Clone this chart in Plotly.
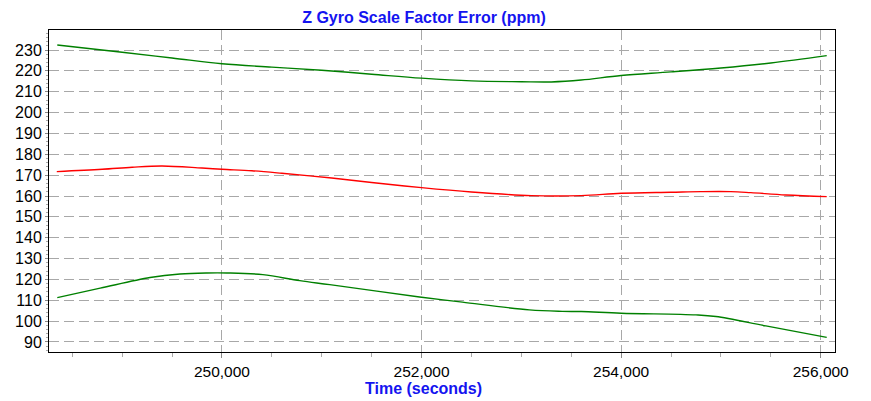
import plotly.graph_objects as go

# Upper green series
t_upper = [248350, 249000, 249500, 250000, 250500, 251000, 251500, 252000, 252500,
           253000, 253300, 253600, 254000, 254500, 255000, 255500, 256060]
v_upper = [232.4, 228.9, 226.2, 223.4, 221.8, 220.3, 218.4, 216.5, 215.2,
           214.8, 214.7, 215.6, 217.8, 219.5, 221.4, 223.8, 227.3]

# Middle red series
t_mid = [248345, 248800, 249100, 249400, 249800, 250000, 250300, 250600, 251100, 251500,
         252000, 252500, 253100, 253600, 254000, 254500, 254800, 255100, 255300, 255650, 256060]
v_mid = [171.7, 172.8, 173.8, 174.4, 173.4, 172.8, 172.1, 170.9, 168.6, 166.5,
         164.0, 161.9, 160.2, 160.2, 161.3, 161.8, 162.1, 162.1, 161.6, 160.5, 159.7]

# Lower green series
t_lower = [248350, 248780, 249280, 249580, 249850, 250050, 250410, 250780, 251080, 251980,
           252410, 253080, 253410, 253600, 254000, 254750, 254950, 255450, 256060]
v_lower = [111.3, 115.8, 120.9, 122.6, 123.1, 123.1, 122.3, 119.4, 117.5, 111.6,
           109.1, 105.4, 104.7, 104.6, 103.8, 103.0, 102.2, 97.7, 92.2]

x_ticks = [250000, 252000, 254000, 256000]
x_tick_labels = ["250,000", "252,000", "254,000", "256,000"]
y_ticks = list(range(90, 231, 10))

fig = go.Figure()
fig.add_trace(go.Scatter(x=t_upper, y=v_upper, mode="lines", line=dict(color="#008000", width=1.4, shape="spline"), showlegend=False))
fig.add_trace(go.Scatter(x=t_mid, y=v_mid, mode="lines", line=dict(color="#ff0000", width=1.4, shape="spline"), showlegend=False))
fig.add_trace(go.Scatter(x=t_lower, y=v_lower, mode="lines", line=dict(color="#008000", width=1.4, shape="spline"), showlegend=False))

font_family = "Liberation Sans, Arial, sans-serif"
blue = "#1414f0"
fig.update_layout(
    width=863, height=393,
    margin=dict(l=41, r=36, t=22, b=49),
    paper_bgcolor="white", plot_bgcolor="white",
    font=dict(family=font_family, size=16, color="black"),
    title=dict(text="<b>Z Gyro Scale Factor Error (ppm)</b>", x=0.482, xanchor="center",
               y=0.977, yanchor="middle", font=dict(size=16, color=blue, family=font_family)),
    xaxis=dict(
        range=[248267, 256143], tickvals=x_ticks, ticktext=x_tick_labels,
        showline=True, linecolor="black", linewidth=1, mirror=True,
        showgrid=True, gridcolor="#a8a8a8", griddash="10px,5px", gridwidth=1,
        ticks="outside", ticklen=5, tickcolor="#888888",
        minor=dict(dtick=500, tick0=250000, ticks="outside", ticklen=4, tickcolor="#aaaaaa", showgrid=False),
        zeroline=False, automargin=False,
        tickfont=dict(size=15.5),
    ),
    yaxis=dict(
        range=[85.2, 239.6], tickvals=y_ticks,
        showline=True, linecolor="black", linewidth=1, mirror=True,
        showgrid=True, gridcolor="#a8a8a8", griddash="10px,5px", gridwidth=1,
        ticks="outside", ticklen=3, tickcolor="#888888",
        minor=dict(dtick=2, tick0=90, ticks="outside", ticklen=2, tickcolor="#aaaaaa", showgrid=False),
        zeroline=False, automargin=False,
        tickfont=dict(size=16),
    ),
    annotations=[dict(text="<b>Time (seconds)</b>", xref="paper", yref="paper",
                      x=0.477, y=-0.112, xanchor="center", yanchor="middle", showarrow=False,
                      font=dict(size=16, color=blue, family=font_family))],
)

fig.write_html("out.html")
